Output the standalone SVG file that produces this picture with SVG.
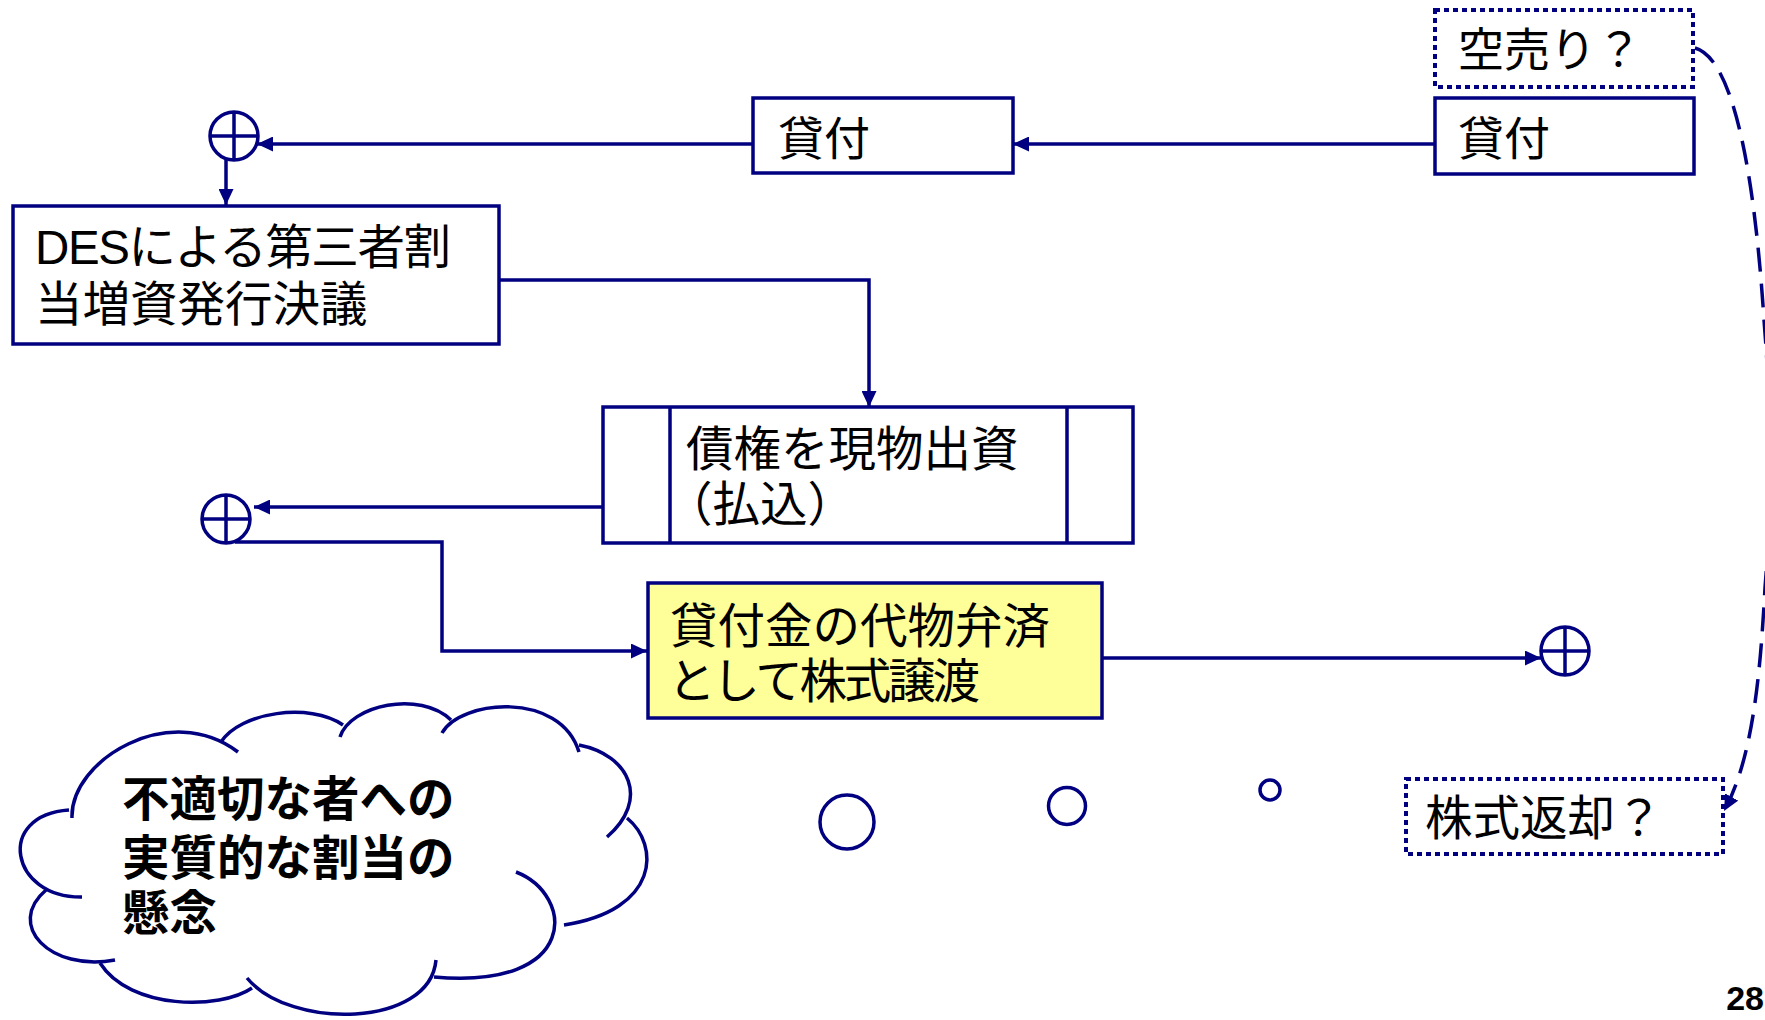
<svg xmlns="http://www.w3.org/2000/svg" width="1765" height="1020" viewBox="0 0 1765 1020">
<style>
.box{fill:#ffffff;stroke:#000080;stroke-width:3.5}
.yel{fill:#ffff99;stroke:#000080;stroke-width:3.5}
.dot{fill:#ffffff;stroke:#000080;stroke-width:4;stroke-dasharray:5 4}
.ln{fill:none;stroke:#000080;stroke-width:3.5}
.cl{fill:none;stroke:#000080;stroke-width:3.5;stroke-linecap:butt}
.t{font-family:"Liberation Sans","Noto Sans CJK JP",sans-serif;font-size:46px;fill:#000000}
.t2{font-family:"Liberation Sans","Noto Sans CJK JP",sans-serif;font-size:47.5px;fill:#000000}
.tb{font-family:"Liberation Sans","Noto Sans CJK JP",sans-serif;font-size:47.5px;font-weight:bold;fill:#000000}
</style>
<defs>
<marker id="ah" markerUnits="userSpaceOnUse" markerWidth="16" markerHeight="15" refX="16" refY="7.5" orient="auto">
<path d="M0,0 L16,7.5 L0,15 z" fill="#000080"/>
</marker>
</defs>
<g id="connectors">
<path class="ln" d="M1435,144 L1013,144" marker-end="url(#ah)"/>
<path class="ln" d="M753,144 L257,144" marker-end="url(#ah)"/>
<path class="ln" d="M226,160 L226,205" marker-end="url(#ah)"/>
<path class="ln" d="M499,280 L869,280 L869,407" marker-end="url(#ah)"/>
<path class="ln" d="M603,507 L254,507" marker-end="url(#ah)"/>
<path class="ln" d="M235,542 L442,542 L442,651 L647,651" marker-end="url(#ah)"/>
<path class="ln" d="M1102,658 L1541,658" marker-end="url(#ah)"/>
<path class="ln" d="M1695,48 C1732,58 1754,165 1764,320 C1772,420 1772,500 1765,588 C1760,680 1752,760 1724,811" stroke-dasharray="24 12" stroke-width="4" marker-end="url(#ah)"/>
</g>
<g id="sum1">
<circle cx="234" cy="136" r="24" class="ln"/>
<path class="ln" d="M210,136 H258 M234,112 V160"/>
</g>
<g id="sum2">
<circle cx="226" cy="519" r="24" class="ln"/>
<path class="ln" d="M202,519 H250 M226,495 V543"/>
</g>
<g id="sum3">
<circle cx="1565" cy="651" r="24" class="ln"/>
<path class="ln" d="M1541,651 H1589 M1565,627 V675"/>
</g>
<g id="karauri">
<rect class="dot" x="1435" y="10" width="258" height="77"/>
<text class="t" x="1458" y="66">空売り？</text>
</g>
<g id="kashitsuke2">
<rect class="box" x="1435" y="98" width="259" height="76"/>
<text class="t" x="1458" y="155">貸付</text>
</g>
<g id="kashitsuke1">
<rect class="box" x="753" y="98" width="260" height="75"/>
<text class="t" x="778" y="155">貸付</text>
</g>
<g id="des">
<rect class="box" x="13" y="206" width="486" height="138"/>
<text class="t2" x="35" y="264" textLength="416" lengthAdjust="spacing">DESによる第三者割</text>
<text class="t2" x="35" y="321">当増資発行決議</text>
</g>
<g id="genbutsu">
<rect class="box" x="603" y="407" width="530" height="136"/>
<path class="ln" d="M670,407 V543 M1067,407 V543"/>
<text class="t2" x="686" y="466">債権を現物出資</text>
<text class="t2" x="665" y="521">（払込）</text>
</g>
<g id="daibutsu">
<rect class="yel" x="648" y="583" width="454" height="135"/>
<text class="t2" x="670" y="643">貸付金の代物弁済</text>
<text class="t2" x="668" y="698" textLength="312" lengthAdjust="spacing">として株式譲渡</text>
</g>
<g id="henkyaku">
<rect class="dot" x="1406" y="779" width="317" height="75"/>
<text class="t2" x="1425" y="835">株式返却？</text>
</g>
<g id="bubbles">
<circle cx="847" cy="822" r="27" class="ln"/>
<circle cx="1067" cy="806" r="18.5" class="ln"/>
<circle cx="1270" cy="790" r="10" class="ln"/>
</g>
<g id="cloud">
<path class="cl" d="M72,818 C70,760 170,700 238,752"/>
<path class="cl" d="M221,742 C240,712 310,702 343,725"/>
<path class="cl" d="M340,737 C350,705 420,690 451,720"/>
<path class="cl" d="M442,733 C460,700 560,690 579,752"/>
<path class="cl" d="M579,745 C630,755 650,800 607,837"/>
<path class="cl" d="M627,818 C660,845 660,910 564,925"/>
<path class="cl" d="M516,872 C575,895 580,990 434,977"/>
<path class="cl" d="M436,960 C430,1028 290,1030 247,978"/>
<path class="cl" d="M252,988 C220,1010 130,1010 100,963"/>
<path class="cl" d="M115,960 C50,972 5,925 46,890"/>
<path class="cl" d="M82,897 C10,898 -5,815 69,810"/>
<text class="tb" x="122" y="816">不適切な者への</text>
<text class="tb" x="122" y="875">実質的な割当の</text>
<text class="tb" x="122" y="930">懸念</text>
</g>
<g id="page">
<text x="1764" y="1010" text-anchor="end" style="font-family:'Liberation Sans',sans-serif;font-size:34px;font-weight:bold">28</text>
</g>
</svg>
